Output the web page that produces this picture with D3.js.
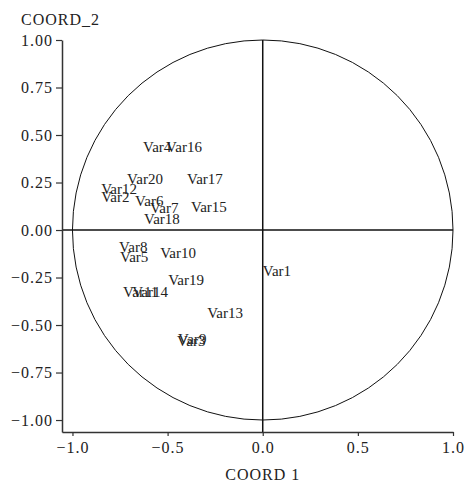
<!DOCTYPE html>
<html>
<head>
<meta charset="utf-8">
<script src="https://cdn.jsdelivr.net/npm/d3@7"></script>
<style>
  html, body { margin: 0; padding: 0; background: #fff; }
  svg { display: block; }
  text { font-family: "Liberation Serif", "DejaVu Serif", serif; fill: #222; }
</style>
</head>
<body>
<svg id="chart" width="469" height="483"></svg>
<script>
// Variable loadings on the first two coordinates
const varNames = ["Var1","Var2","Var3","Var4","Var5","Var6","Var7","Var8","Var9","Var10",
                  "Var11","Var12","Var13","Var14","Var15","Var16","Var17","Var18","Var19","Var20"];
const coord1 = [0.00, -0.849, -0.450, -0.629, -0.750, -0.671, -0.592, -0.755, -0.445, -0.539,
                -0.734, -0.849, -0.292, -0.686, -0.377, -0.508, -0.398, -0.624, -0.497, -0.713];
const coord2 = [-0.216, 0.174, -0.584, 0.437, -0.142, 0.153, 0.116, -0.089, -0.574, -0.121,
                -0.326, 0.216, -0.437, -0.326, 0.121, 0.437, 0.268, 0.058, -0.263, 0.268];

const xTicks = [-1.0, -0.5, 0.0, 0.5, 1.0];
const yTicks = [-1.00, -0.75, -0.50, -0.25, 0.00, 0.25, 0.50, 0.75, 1.00];

const svg = d3.select("#chart");

const x = d3.scaleLinear().domain([-1.055, 1]).range([62, 453]);
const y = d3.scaleLinear().domain([-1.063, 1]).range([432, 40]);

// Unit circle
svg.append("ellipse")
  .attr("cx", x(0)).attr("cy", y(0))
  .attr("rx", x(1) - x(0)).attr("ry", y(0) - y(1))
  .attr("fill", "none").attr("stroke", "#111").attr("stroke-width", 1);

// Reference lines through the origin
svg.append("line")
  .attr("x1", x(0)).attr("x2", x(0))
  .attr("y1", y(1)).attr("y2", y(-1.063))
  .attr("stroke", "#111").attr("stroke-width", 1.5);
svg.append("line")
  .attr("x1", x(-1.055)).attr("x2", x(1))
  .attr("y1", y(0)).attr("y2", y(0))
  .attr("stroke", "#111").attr("stroke-width", 1.5);

// Axes
const xAxis = svg.append("g")
  .attr("transform", `translate(0,${y(-1.063)})`)
  .call(d3.axisBottom(x).tickValues(xTicks).tickFormat(d3.format(".1f"))
        .tickSize(4).tickSizeOuter(0).tickPadding(6));
const yAxis = svg.append("g")
  .attr("transform", `translate(${x(-1.055)},0)`)
  .call(d3.axisLeft(y).tickValues(yTicks).tickFormat(d3.format(".2f"))
        .tickSize(6).tickSizeOuter(0).tickPadding(3));

[xAxis, yAxis].forEach(g => {
  g.select(".domain").attr("stroke", "#333").attr("stroke-width", 1.5);
  g.selectAll(".tick line").attr("stroke", "#333").attr("stroke-width", 1.2);
  g.selectAll(".tick text")
    .style("font-family", '"Liberation Serif", serif')
    .style("font-size", "16px")
    .style("letter-spacing", "1px")
    .attr("fill", "#222");
});

// Axis titles
svg.append("text")
  .attr("x", 21).attr("y", 25)
  .style("font-size", "16px").style("letter-spacing", "1px")
  .text("COORD_2");
svg.append("text")
  .attr("x", x(0)).attr("y", 480)
  .attr("text-anchor", "middle")
  .style("font-size", "16px").style("letter-spacing", "1px")
  .text("COORD 1");

// Variable labels placed at their coordinates
const points = varNames.map((n, i) => ({ name: n, c1: coord1[i], c2: coord2[i] }));
svg.append("g").selectAll("text")
  .data(points)
  .join("text")
  .attr("x", d => x(d.c1))
  .attr("y", d => y(d.c2) + 5)
  .style("font-size", "15px")
  .text(d => d.name);
</script>
</body>
</html>
